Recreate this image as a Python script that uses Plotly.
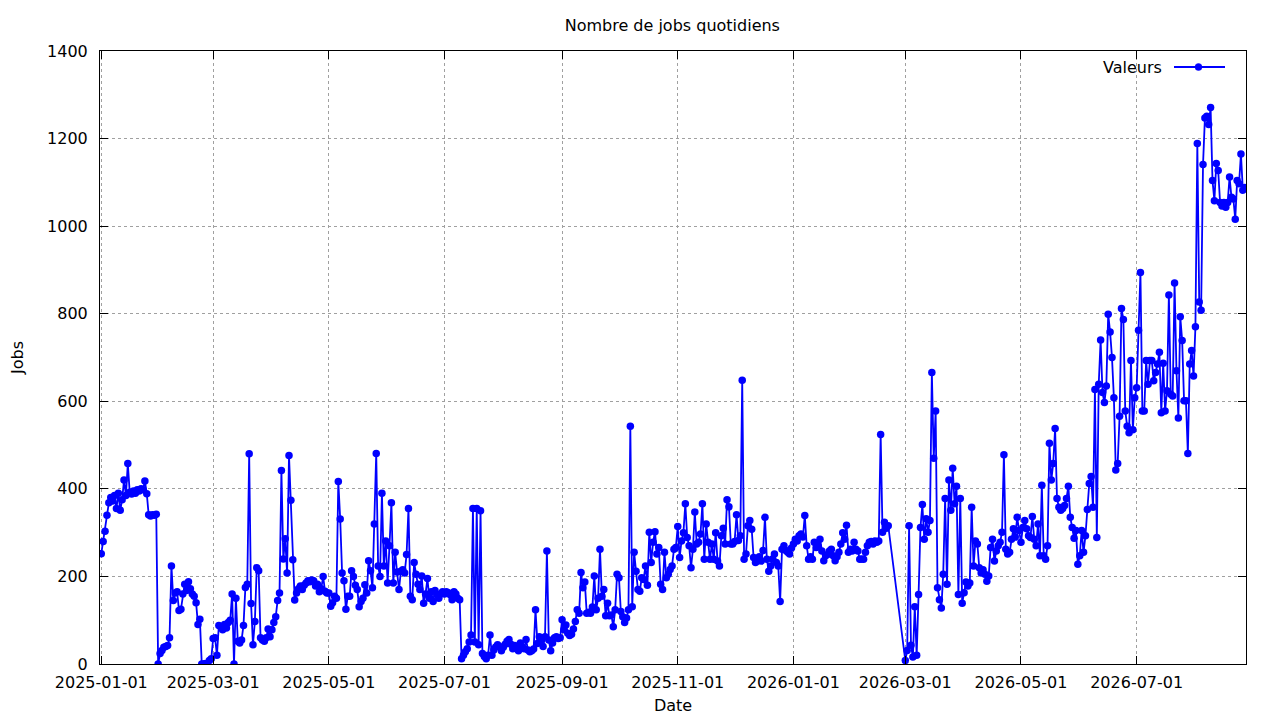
import pandas as pd
import plotly.graph_objects as go

# jobs par jour, 2025-01-01 .. 2025-12-31 (une ligne par mois)
jobs_2025 = [
    252, 280, 303, 340, 368, 380, 372, 385, 355, 390, 351, 375, 420, 385, 458, 392, 388, 395, 390, 398, 395, 400, 398, 418, 389, 341, 338, 341, 340, 342, 0,
    24, 31, 38, 40, 42, 60, 224, 145, 162, 165, 122, 125, 160, 182, 168, 188, 172, 160, 155, 140, 90, 102, 0, 0, 1, 0, 8, 12,
    58, 60, 20, 88, 85, 78, 90, 82, 95, 100, 160, 0, 150, 52, 48, 55, 88, 175, 182, 480, 138, 44, 97, 220, 213, 60, 55, 52, 60, 80, 62,
    78, 95, 108, 145, 162, 442, 240, 286, 208, 476, 374, 238, 146, 162, 172, 178, 170, 180, 185, 190, 188, 192, 190, 178, 182, 165, 172, 200, 166, 162,
    162, 132, 140, 155, 150, 417, 331, 208, 190, 125, 155, 155, 213, 200, 180, 170, 131, 143, 150, 181, 162, 236, 213, 174, 320, 481, 224, 200, 390, 224, 281,
    185, 270, 368, 185, 255, 210, 170, 212, 215, 208, 250, 355, 155, 147, 232, 205, 182, 170, 201, 139, 160, 195, 150, 165, 143, 168, 158, 150, 160, 165,
    160, 165, 163, 158, 147, 165, 160, 150, 147, 12, 20, 28, 35, 50, 66, 355, 50, 355, 44, 350, 24, 17, 12, 20, 66, 20, 32, 39, 44, 40, 30,
    38, 45, 52, 56, 45, 35, 42, 40, 30, 48, 38, 35, 56, 32, 28, 30, 34, 124, 47, 62, 55, 40, 62, 258, 55, 30, 48, 60, 62, 58, 60,
    101, 78, 89, 70, 65, 68, 80, 97, 124, 116, 209, 174, 187, 116, 118, 116, 130, 201, 124, 150, 262, 155, 170, 110, 139, 110, 112, 85, 124, 205,
    197, 120, 108, 95, 105, 124, 543, 131, 255, 212, 170, 166, 197, 193, 224, 180, 301, 232, 278, 302, 251, 266, 182, 170, 255, 197, 205, 216, 224, 262, 266,
    314, 243, 281, 300, 366, 289, 270, 220, 262, 347, 274, 278, 297, 366, 239, 320, 278, 239, 274, 239, 300, 235, 224, 293, 310, 274, 375, 359, 274, 274,
    280, 341, 282, 293, 648, 239, 251, 316, 328, 308, 243, 232, 235, 245, 235, 259, 335, 239, 212, 224, 240, 251, 232, 224, 143, 262, 270, 259, 255, 251, 265,
]

# 2026-01-01 .. 2026-02-20
jobs_2026_debut = [
    274, 285, 281, 293, 297, 290, 339, 270, 239, 245, 239, 278, 266, 270, 285, 258, 236, 247, 250, 258, 262, 247, 236, 245, 255, 274, 300, 285, 317, 255, 262,
    258, 278, 262, 258, 239, 240, 239, 255, 270, 278, 280, 274, 281, 278, 281, 524, 301, 324, 310, 316,
]

# 2026-03-01 .. 2026-08-27 (pas de donnees du 21 au 28 fevrier)
jobs_2026_fin = [
    8, 31, 316, 43, 16, 131, 20, 159, 312, 364, 285, 332, 301, 328, 666, 470, 578, 174, 147, 128, 205, 378, 182, 420, 351, 447, 366, 406, 159, 378, 139,
    163, 187, 178, 185, 358, 224, 281, 274, 220, 208, 215, 205, 189, 201, 266, 285, 235, 258, 270, 278, 301, 478, 262, 251, 255, 285, 309, 290, 335, 305,
    278, 312, 328, 309, 293, 289, 337, 285, 270, 320, 247, 408, 247, 239, 270, 504, 420, 458, 538, 378, 358, 351, 355, 362, 378, 406, 335, 312, 287, 305, 228,
    247, 305, 255, 293, 353, 412, 428, 358, 627, 289, 639, 740, 620, 597, 635, 799, 758, 700, 608, 443, 458, 566, 812, 787, 578, 543, 528, 693, 535, 608,
    631, 762, 894, 578, 578, 693, 639, 693, 693, 647, 666, 685, 712, 574, 687, 578, 624, 843, 616, 612, 870, 670, 562, 793, 739, 601, 601, 481, 685, 716, 658,
    770, 1189, 827, 808, 1141, 1247, 1251, 1232, 1271, 1104, 1058, 1143, 1127, 1054, 1046, 1054, 1043, 1054, 1112, 1066, 1062, 1016, 1104, 1097, 1165, 1082, 1088,
]

dates = (list(pd.date_range("2025-01-01", periods=len(jobs_2025)))
         + list(pd.date_range("2026-01-01", periods=len(jobs_2026_debut)))
         + list(pd.date_range("2026-03-01", periods=len(jobs_2026_fin))))
jobs = jobs_2025 + jobs_2026_debut + jobs_2026_fin

bleu = "#0000ff"
police = dict(family="DejaVu Sans", size=16, color="black")

fig = go.Figure(go.Scatter(
    x=dates, y=jobs, mode="lines+markers", name="Valeurs",
    line=dict(color=bleu, width=1.8),
    marker=dict(color=bleu, size=7.5, symbol="circle"),
    showlegend=False,
))

axe = dict(showline=True, linecolor="black", linewidth=1, mirror="allticks",
           ticks="inside", ticklen=8, tickcolor="black",
           showgrid=True, gridcolor="#a0a0a0", griddash="dot", gridwidth=1,
           zeroline=False, tickfont=police, automargin=False)

fig.update_xaxes(axe, type="date", tickformat="%Y-%m-%d", dtick="M2", tick0="2025-01-01",
                 range=[dates[0] - pd.Timedelta(hours=16), dates[-1] + pd.Timedelta(hours=16)],
                 title=dict(text="Date", font=police, standoff=8), ticklabelstandoff=4)
fig.update_yaxes(axe, range=[0, 1400], dtick=200,
                 title=dict(text="Jobs", font=police, standoff=31), ticklabelstandoff=8)

# legende facon gnuplot : texte a gauche, echantillon a droite
fig.add_annotation(text="Valeurs", xref="paper", yref="paper", x=1, y=1,
                   xshift=-82, yshift=-16, xanchor="right", yanchor="middle",
                   showarrow=False, font=police)
fig.add_shape(type="line", xref="paper", yref="paper", xsizemode="pixel", ysizemode="pixel",
              xanchor=1, yanchor=1, x0=-72, x1=-21, y0=-16, y1=-16,
              line=dict(color=bleu, width=1.8))
fig.add_shape(type="circle", xref="paper", yref="paper", xsizemode="pixel", ysizemode="pixel",
              xanchor=1, yanchor=1, x0=-51, x1=-44, y0=-19.5, y1=-12.5,
              fillcolor=bleu, line=dict(color=bleu, width=0.5))

# la page ajoute une marge de 8 px autour de la figure : on la compense
fig.update_layout(
    width=1280, height=720,
    title=dict(text="Nombre de jobs quotidiens", font=police, x=0.519, xanchor="center",
               y=0.976, yanchor="middle"),
    paper_bgcolor="white", plot_bgcolor="white",
    margin=dict(l=92, r=42, t=43, b=64),
    font=police,
)

fig.write_html("out.html")
